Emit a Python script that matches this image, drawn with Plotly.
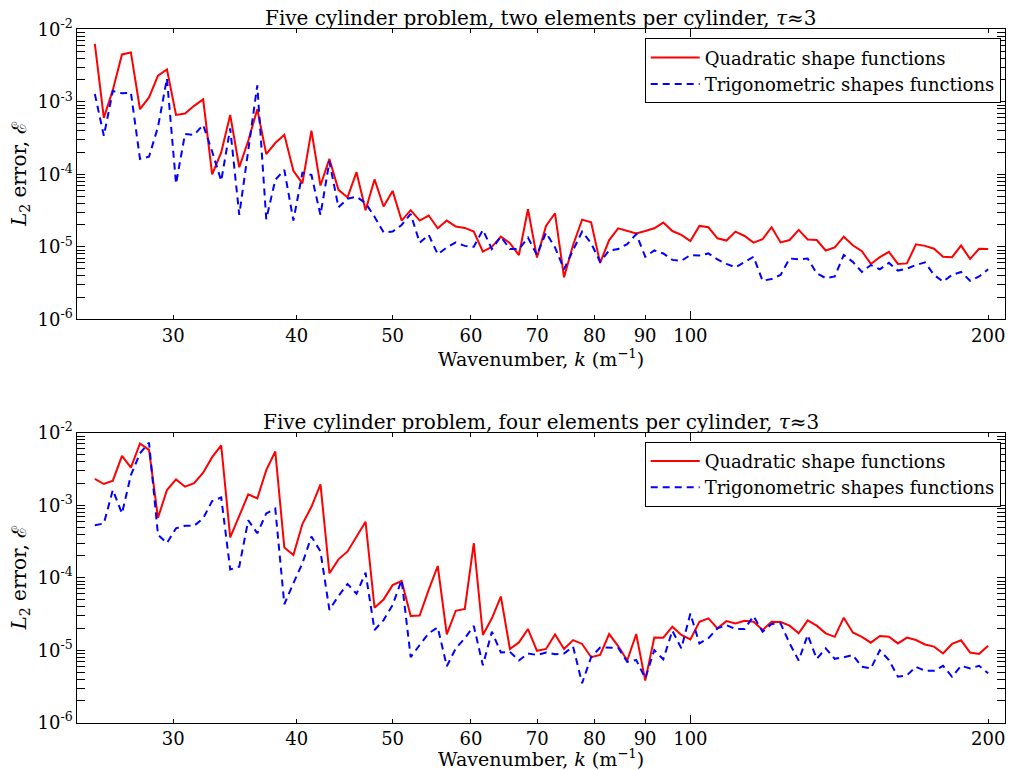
import math
import plotly.graph_objects as go

# Wavenumber samples (geometrically spaced, 25 .. 200)
K = [25.00, 25.53, 26.07, 26.63, 27.19, 27.77, 28.36, 28.96, 29.57, 30.20, 30.84,
     31.50, 32.17, 32.85, 33.55, 34.26, 34.99, 35.73, 36.49, 37.26, 38.05, 38.86,
     39.69, 40.53, 41.39, 42.27, 43.16, 44.08, 45.02, 45.97, 46.95, 47.94, 48.96,
     50.00, 51.06, 52.15, 53.25, 54.38, 55.54, 56.72, 57.92, 59.15, 60.40, 61.69,
     63.00, 64.33, 65.70, 67.09, 68.52, 69.97, 71.46, 72.97, 74.52, 76.11, 77.72,
     79.37, 81.05, 82.77, 84.53, 86.33, 88.16, 90.03, 91.94, 93.89, 95.89, 97.92,
     100.00, 102.12, 104.29, 106.50, 108.76, 111.07, 113.43, 115.84, 118.30, 120.81, 123.37,
     125.99, 128.67, 131.40, 134.19, 137.03, 139.94, 142.91, 145.95, 149.05, 152.21, 155.44,
     158.74, 162.11, 165.55, 169.06, 172.65, 176.32, 180.06, 183.88, 187.79, 191.77, 195.84,
     200.00]

# Two elements per cylinder
quad_two = [6.3e-3, 6.0e-4, 1.46e-3, 4.5e-3, 4.8e-3, 7.9e-4, 1.15e-3, 2.3e-3, 2.8e-3, 6.6e-4,
            6.9e-4, 8.8e-4, 1.08e-3, 1.0e-4, 2.0e-4, 6.6e-4, 1.25e-4, 2.9e-4, 7.9e-4, 1.9e-4,
            2.7e-4, 3.5e-4, 1.12e-4, 7.5e-5, 4.0e-4, 7.0e-5, 1.63e-4, 6.1e-5, 4.8e-5, 1.07e-4,
            3.2e-5, 8.5e-5, 3.6e-5, 5.9e-5, 2.3e-5, 3.2e-5, 2.3e-5, 2.7e-5, 1.8e-5, 2.3e-5,
            1.9e-5, 1.82e-5, 1.62e-5, 8.6e-6, 1.0e-5, 1.38e-5, 1.12e-5, 7.7e-6, 3.3e-5, 7.1e-6,
            1.94e-5, 2.9e-5, 3.8e-6, 1.06e-5, 2.37e-5, 2.18e-5, 6.0e-6, 1.24e-5, 1.8e-5, 1.65e-5,
            1.53e-5, 1.65e-5, 1.8e-5, 2.16e-5, 1.65e-5, 1.46e-5, 1.2e-5, 1.94e-5, 1.86e-5, 1.31e-5,
            1.22e-5, 1.62e-5, 1.41e-5, 1.14e-5, 1.27e-5, 1.86e-5, 1.15e-5, 1.24e-5, 1.71e-5, 1.26e-5,
            1.24e-5, 8.9e-6, 9.8e-6, 1.38e-5, 1.05e-5, 8.7e-6, 5.8e-6, 7.2e-6, 8.5e-6, 5.8e-6,
            5.9e-6, 1.08e-5, 1.03e-5, 9.4e-6, 7.3e-6, 7.2e-6, 1.04e-5, 6.8e-6, 9.4e-6, 9.3e-6]

trig_two = [1.28e-3, 3.4e-4, 1.41e-3, 1.31e-3, 1.34e-3, 1.63e-4, 1.75e-4, 4.5e-4, 2.1e-3, 7.4e-5,
            3.6e-4, 3.5e-4, 4.8e-4, 2.06e-4, 8.1e-5, 4.3e-4, 2.75e-5, 2.2e-4, 1.69e-3, 2.4e-5,
            8.4e-5, 1.15e-4, 2.3e-5, 1.05e-4, 9.8e-5, 2.75e-5, 1.5e-4, 3.5e-5, 4.6e-5, 4.9e-5,
            4.0e-5, 2.6e-5, 1.58e-5, 1.62e-5, 2.0e-5, 2.84e-5, 1.14e-5, 1.46e-5, 7.9e-6, 9.8e-6,
            1.15e-5, 1.03e-5, 1.0e-5, 1.71e-5, 9.3e-6, 1.38e-5, 9.3e-6, 9.3e-6, 1.34e-5, 7.7e-6,
            1.57e-5, 9.8e-6, 4.9e-6, 9.0e-6, 1.62e-5, 1.12e-5, 6.2e-6, 8.9e-6, 9.3e-6, 1.09e-5,
            1.5e-5, 7.3e-6, 8.9e-6, 8.1e-6, 6.6e-6, 6.4e-6, 7.7e-6, 7.6e-6, 8.1e-6, 6.7e-6,
            5.8e-6, 5.2e-6, 6.1e-6, 7.3e-6, 3.4e-6, 3.6e-6, 4.1e-6, 6.9e-6, 6.7e-6, 6.9e-6,
            4.3e-6, 3.7e-6, 3.9e-6, 7.7e-6, 6.2e-6, 4.5e-6, 5.6e-6, 4.9e-6, 6.0e-6, 4.7e-6,
            5.0e-6, 5.6e-6, 6.1e-6, 4.1e-6, 3.3e-6, 4.1e-6, 4.5e-6, 3.4e-6, 3.9e-6, 4.9e-6]

# Four elements per cylinder
quad_four = [2.3e-3, 1.96e-3, 2.18e-3, 4.8e-3, 3.3e-3, 7.1e-3, 5.8e-3, 6.7e-4, 1.62e-3, 2.27e-3,
             1.8e-3, 2.02e-3, 2.8e-3, 4.6e-3, 6.7e-3, 3.6e-4, 7.1e-4, 1.41e-3, 1.24e-3, 3.05e-3,
             5.5e-3, 2.6e-4, 2.06e-4, 5.5e-4, 9.5e-4, 1.94e-3, 1.15e-4, 1.79e-4, 2.3e-4, 3.6e-4,
             5.9e-4, 3.85e-5, 5.0e-5, 7.9e-5, 9.0e-5, 2.96e-5, 3.0e-5, 6.8e-5, 1.45e-4, 1.65e-5,
             3.5e-5, 3.7e-5, 3.0e-4, 1.62e-5, 2.75e-5, 5.5e-5, 1.04e-5, 1.28e-5, 1.96e-5, 9.8e-6,
             1.04e-5, 1.65e-5, 1.04e-5, 1.38e-5, 1.22e-5, 8.0e-6, 8.6e-6, 1.67e-5, 1.14e-5, 7.2e-6,
             1.67e-5, 3.8e-6, 1.5e-5, 1.49e-5, 2.11e-5, 1.62e-5, 1.41e-5, 2.47e-5, 2.75e-5, 2.0e-5,
             2.52e-5, 2.34e-5, 2.55e-5, 2.47e-5, 1.9e-5, 2.47e-5, 2.45e-5, 2.18e-5, 1.71e-5, 2.58e-5,
             2.18e-5, 1.71e-5, 1.53e-5, 2.81e-5, 1.76e-5, 1.53e-5, 1.27e-5, 1.57e-5, 1.53e-5, 1.24e-5,
             1.49e-5, 1.38e-5, 1.2e-5, 1.12e-5, 9.0e-6, 1.22e-5, 1.37e-5, 9.3e-6, 8.9e-6, 1.15e-5]

trig_four = [5.3e-4, 5.6e-4, 1.62e-3, 7.7e-4, 2.6e-3, 5.2e-3, 7.3e-3, 3.9e-4, 3.0e-4, 4.8e-4,
             5.2e-4, 5.2e-4, 6.6e-4, 1.14e-3, 1.28e-3, 1.3e-4, 1.42e-4, 6.2e-4, 4.1e-4, 7.7e-4,
             9.0e-4, 4.3e-5, 8.4e-5, 1.58e-4, 3.7e-4, 2.3e-4, 3.6e-5, 5.6e-5, 8.2e-5, 6.0e-5,
             1.17e-4, 1.9e-5, 2.6e-5, 4.2e-5, 9.3e-5, 8.0e-6, 1.18e-5, 1.71e-5, 2.06e-5, 6.0e-6,
             1.06e-5, 1.46e-5, 2.16e-5, 6.2e-6, 1.8e-5, 9.3e-6, 9.5e-6, 7.2e-6, 9.0e-6, 8.6e-6,
             9.3e-6, 8.8e-6, 9.0e-6, 1.12e-5, 3.5e-6, 8.0e-6, 1.09e-5, 1.08e-5, 1.08e-5, 6.9e-6,
             7.3e-6, 4.1e-6, 1.0e-5, 7.5e-6, 1.86e-5, 1.06e-5, 3.2e-5, 1.24e-5, 1.46e-5, 2.0e-5,
             2.22e-5, 1.96e-5, 1.96e-5, 2.96e-5, 1.8e-5, 2.3e-5, 2.34e-5, 1.24e-5, 7.2e-6, 1.62e-5,
             7.6e-6, 1.06e-5, 7.6e-6, 8.0e-6, 8.6e-6, 5.9e-6, 5.6e-6, 1.0e-5, 7.3e-6, 4.3e-6,
             4.5e-6, 5.9e-6, 5.2e-6, 5.2e-6, 6.1e-6, 4.3e-6, 6.1e-6, 5.6e-6, 6.1e-6, 4.8e-6]

titles = ["Five cylinder problem, two elements per cylinder, <i>τ</i>≈3",
          "Five cylinder problem, four elements per cylinder, <i>τ</i>≈3"]
series_names = ["Quadratic shape functions", "Trigonometric shapes functions"]

x_tickvals = [30, 40, 50, 60, 70, 80, 90, 100, 200]
x_ticktext = ["30", "40", "50", "60", "70", "80", "90", "100", "200"]
y_tickvals = [1e-6, 1e-5, 1e-4, 1e-3, 1e-2]
y_ticktext = ["10<sup>-6</sup>", "10<sup>-5</sup>", "10<sup>-4</sup>", "10<sup>-3</sup>", "10<sup>-2</sup>"]
y_minor = [m * 10.0 ** e for e in range(-6, -2) for m in range(2, 10)]
x_major_long = [100]

FONT = "DejaVu Serif"
W, H = 1010, 770


def px_x(v):
    return v / W


def px_y(v):
    return 1 - v / H


x_dom = [px_x(77.3), px_x(1005)]
y_doms = [[px_y(319.3), px_y(29.3)], [px_y(722.7), px_y(432.7)]]
x_range = [math.log10(24.0), math.log10(208.0)]

fig = go.Figure()
data_sets = [(quad_two, trig_two), (quad_four, trig_four)]
for p, (q, t) in enumerate(data_sets):
    xa = "x" if p == 0 else "x2"
    ya = "y" if p == 0 else "y2"
    leg = "legend" if p == 0 else "legend2"
    fig.add_trace(go.Scatter(x=K, y=q, mode="lines", name=series_names[0],
                             line=dict(color="#ff0000", width=2), xaxis=xa, yaxis=ya,
                             legend=leg))
    fig.add_trace(go.Scatter(x=K, y=t, mode="lines", name=series_names[1],
                             line=dict(color="#0000ff", width=2, dash="7px,5px"),
                             xaxis=xa, yaxis=ya, legend=leg))

axis_common = dict(showgrid=False, zeroline=False, showline=True, linecolor="black",
                   linewidth=1, mirror="allticks", ticks="inside", tickcolor="black",
                   automargin=False,
                   tickfont=dict(family=FONT, size=18, color="black"))

layout = dict(
    width=W, height=H, margin=dict(l=0, r=0, t=0, b=0, autoexpand=False),
    paper_bgcolor="white", plot_bgcolor="white",
    font=dict(family=FONT, color="black"),
    annotations=[],
)
for p in range(2):
    sfx = "" if p == 0 else "2"
    layout["xaxis" + sfx] = dict(
        axis_common, type="log", range=x_range, domain=x_dom, anchor="y" + sfx,
        tickvals=x_tickvals, ticktext=x_ticktext, ticklen=4, tickwidth=1,
        ticklabelstandoff=0,
        title=dict(text="Wavenumber, <i>k</i> (m<sup>−1</sup>)",
                   font=dict(family=FONT, size=19, color="black"), standoff=0),
    )
    layout["yaxis" + sfx] = dict(
        axis_common, type="log", range=[-6, -2], domain=y_doms[p], anchor="x" + sfx,
        tickvals=y_tickvals, ticktext=y_ticktext, ticklen=8, tickwidth=1,
        ticklabelstandoff=0,
        minor=dict(tickvals=y_minor, ticklen=4, ticks="inside", tickcolor="black", tickwidth=1),
        title=dict(text="<i>L</i><sub>2</sub> error, ℰ",
                   font=dict(family=FONT, size=20, color="black"), standoff=5),
    )
    # overlay axis carrying the longer major tick at k = 100
    osfx = str(3 + p)
    layout["xaxis" + osfx] = dict(
        type="log", range=x_range, domain=x_dom, anchor="y" + sfx, overlaying="x" + sfx,
        tickvals=x_major_long, ticklen=8, ticks="inside", tickcolor="black", tickwidth=1,
        showticklabels=False, showgrid=False, zeroline=False, showline=False,
        mirror="allticks", automargin=False,
    )
    layout["annotations"].append(dict(
        text=titles[p], xref="x" + sfx + " domain", yref="y" + sfx + " domain",
        x=0.5, y=1.0, xanchor="center", yanchor="middle", yshift=11, showarrow=False,
        font=dict(family=FONT, size=20, color="black"),
    ))

legend_common = dict(bgcolor="white", bordercolor="black", borderwidth=1,
                     font=dict(family=FONT, size=18, color="black"),
                     itemwidth=49,
                     xanchor="right", yanchor="top", x=px_x(1000.7))
layout["legend"] = dict(legend_common, y=px_y(38.3))
layout["legend2"] = dict(legend_common, y=px_y(441.7))
layout["showlegend"] = True

fig.update_layout(**layout)
# invisible traces to activate overlay axes
fig.add_trace(go.Scatter(x=[K[0]], y=[quad_two[0]], xaxis="x3", yaxis="y", mode="lines",
                         showlegend=False, hoverinfo="skip", line=dict(width=0)))
fig.add_trace(go.Scatter(x=[K[0]], y=[quad_four[0]], xaxis="x4", yaxis="y2", mode="lines",
                         showlegend=False, hoverinfo="skip", line=dict(width=0)))
# remove the default page margin so the figure sits at the window's top-left corner
fig.write_html("out.html", config={"displayModeBar": False},
               post_script="document.body.style.margin='0';")
